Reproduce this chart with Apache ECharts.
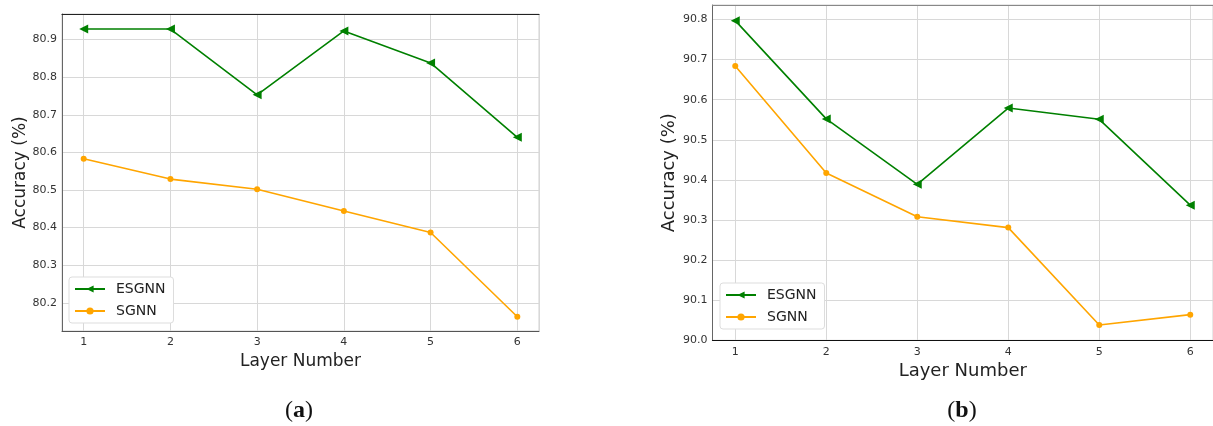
<!DOCTYPE html>
<html>
<head>
<meta charset="utf-8">
<script src="https://cdn.jsdelivr.net/npm/echarts@6/dist/echarts.min.js"></script>
<style>
  html, body { margin: 0; padding: 0; background: #fff; }
  #chart { width: 1213px; height: 426px; }
</style>
</head>
<body>
<div id="chart"></div>
<script>
// ---- Data ----
const layers = [1, 2, 3, 4, 5, 6];
const esgnnA = [80.928, 80.928, 80.753, 80.923, 80.838, 80.640];
const sgnnA  = [80.583, 80.529, 80.502, 80.444, 80.387, 80.163];
const esgnnB = [90.797, 90.552, 90.389, 90.579, 90.551, 90.337];
const sgnnB  = [90.684, 90.417, 90.308, 90.281, 90.038, 90.064];
const seriesNames = ['ESGNN', 'SGNN'];
const xTitle = 'Layer Number';
const yTitle = 'Accuracy (%)';
const captions = ['a', 'b'];

const GREEN = '#008000';
const ORANGE = '#FFA500';
const FONT = 'DejaVu Sans';
const triLeft = 'path://M0,5 L10,0 L10,10 Z';

const pairs = (vals) => layers.map((l, i) => [l, vals[i]]);

function xAx(grid, extra) {
  return Object.assign({
    type: 'value', gridIndex: grid, min: 0.75, max: 6.25, splitNumber: 5,
    axisLine: { show: true, lineStyle: { color: '#555', width: 1 } },
    axisTick: { show: false },
    axisLabel: { color: '#333', fontFamily: FONT, fontSize: 11, margin: 6,
      showMinLabel: false, showMaxLabel: false,
      formatter: v => (Math.abs(v - Math.round(v)) < 1e-6 ? String(Math.round(v)) : '') },
    splitLine: { show: true, lineStyle: { color: '#d8d8d8', width: 1 } },
    name: xTitle, nameLocation: 'middle',
    nameTextStyle: { fontFamily: FONT, fontSize: 17, color: '#222' }
  }, extra);
}
function topAx(grid, color) {
  return { type: 'value', gridIndex: grid, position: 'top', min: 0.75, max: 6.25,
    axisLine: { show: true, lineStyle: { color: color, width: 1.2 } },
    axisTick: { show: false }, axisLabel: { show: false }, splitLine: { show: false } };
}
function yAx(grid, extra) {
  return Object.assign({
    type: 'value', gridIndex: grid,
    axisLine: { show: true, lineStyle: { color: '#666', width: 1 } },
    axisTick: { show: false },
    axisLabel: { color: '#333', fontFamily: FONT, fontSize: 11, margin: 5,
      showMinLabel: false, showMaxLabel: false,
      formatter: v => v.toFixed(1) },
    splitLine: { show: true, lineStyle: { color: '#d8d8d8', width: 1 } },
    name: yTitle, nameLocation: 'middle',
    nameTextStyle: { fontFamily: FONT, fontSize: 17, color: '#222' }
  }, extra);
}
function line(name, data, xi, yi, color, symbol, size) {
  return {
    name, type: 'line', xAxisIndex: xi, yAxisIndex: yi, data: pairs(data),
    symbol, symbolSize: size, showSymbol: true,
    lineStyle: { color, width: 1.6 }, itemStyle: { color },
    animation: false, z: 5
  };
}
function legend(left, top) {
  return {
    data: seriesNames, orient: 'vertical', left, top,
    itemWidth: 30, itemHeight: 9, itemGap: 8,
    padding: [5, 8, 5, 5],
    backgroundColor: '#fff', borderColor: '#ddd', borderWidth: 1, borderRadius: 3,
    textStyle: { fontFamily: FONT, fontSize: 14, color: '#222', padding: [0, 0, 0, 6] },
    selectedMode: false
  };
}

const chart = echarts.init(document.getElementById('chart'), null, { renderer: 'canvas' });
chart.setOption({
  backgroundColor: '#fff',
  animation: false,
  grid: [
    { left: 62, top: 14, width: 477, height: 317, show: true, borderColor: '#d0d0d0', borderWidth: 1 },
    { left: 712.5, top: 5, width: 505, height: 335.3, show: true, borderColor: '#d0d0d0', borderWidth: 1 }
  ],
  xAxis: [
    xAx(0, { nameGap: 16 }),
    xAx(1, { nameGap: 18, nameTextStyle: { fontFamily: FONT, fontSize: 18, color: '#222' },
      axisLine: { show: true, lineStyle: { color: '#111', width: 1.2 } } }),
    topAx(0, '#222'),
    topAx(1, '#888')
  ],
  yAxis: [
    yAx(0, { min: 80.125, max: 80.968, splitNumber: 8, nameGap: 33 }),
    yAx(1, { min: 90.0, max: 90.836, interval: 0.1, nameGap: 34,
      axisLabel: { color: '#333', fontFamily: FONT, fontSize: 11, margin: 5,
        showMinLabel: true, showMaxLabel: false, formatter: v => v.toFixed(1) },
      nameTextStyle: { fontFamily: FONT, fontSize: 18, color: '#222' } })
  ],
  legend: [legend(69, 277), legend(720, 283)],
  series: [
    line('ESGNN', esgnnA, 0, 0, GREEN, triLeft, 9),
    line('SGNN', sgnnA, 0, 0, ORANGE, 'circle', 6),
    line('ESGNN', esgnnB, 1, 1, GREEN, triLeft, 9),
    line('SGNN', sgnnB, 1, 1, ORANGE, 'circle', 6)
  ],
  title: [
    { text: '({b|' + captions[0] + '})', left: 294, top: 394, textAlign: 'center',
      textStyle: { fontFamily: 'Liberation Serif', fontSize: 24, fontWeight: 'normal', color: '#111',
        rich: { b: { fontFamily: 'Liberation Serif', fontSize: 24, fontWeight: 'bold', color: '#111' } } } },
    { text: '({b|' + captions[1] + '})', left: 957, top: 394, textAlign: 'center',
      textStyle: { fontFamily: 'Liberation Serif', fontSize: 24, fontWeight: 'normal', color: '#111',
        rich: { b: { fontFamily: 'Liberation Serif', fontSize: 24, fontWeight: 'bold', color: '#111' } } } }
  ]
});
</script>
</body>
</html>
